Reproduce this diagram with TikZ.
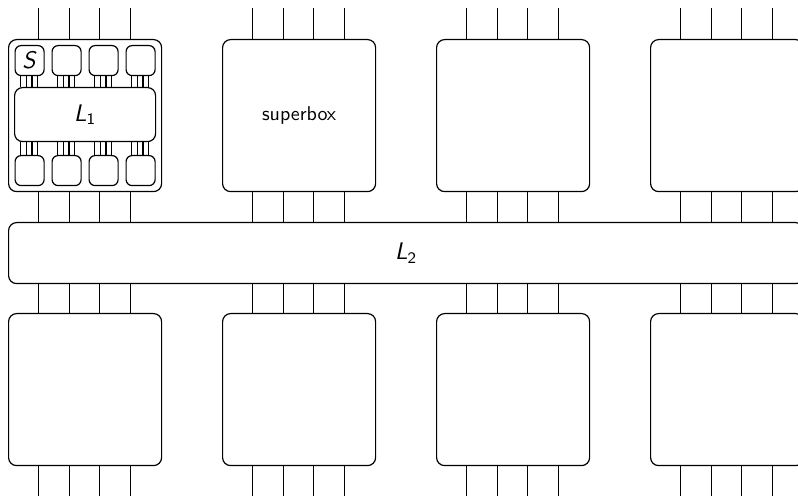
\documentclass[tikz,border=0pt]{standalone}
\usetikzlibrary{calc}
\renewcommand{\familydefault}{\sfdefault}
\newcommand{\layer}[1]{\textit{L}$_{\mathsf{#1}}$}

\begin{document}
\begin{tikzpicture}[x=0.5pt,y=-0.5pt]
      \useasboundingbox (0,0) rectangle (798,496);
      \clip (0,0) rectangle (798,496);

      % Styles
      \tikzset{
        BoxStyle/.style   = {draw, line width=0.6pt, rounded corners=4pt, anchor=north west,
                             inner sep=0pt, minimum width=76.5pt, minimum height=76pt},
        SmallStyle/.style = {draw, line width=0.6pt, rounded corners=3pt, anchor=north west,
                             inner sep=0pt, minimum width=14.5pt, minimum height=15pt},
        WireStyle/.style  = {line width=0.6pt}
      }

      % Superboxes
      \node[BoxStyle] (b1) at (8,39)   {};
      \node[BoxStyle] (b2) at (222,39) {superbox};
      \node[BoxStyle] (b3) at (436,39) {};
      \node[BoxStyle] (b4) at (650,39) {};
      \node[BoxStyle] (c1) at (8,313)   {};
      \node[BoxStyle] (c2) at (222,313) {};
      \node[BoxStyle] (c3) at (436,313) {};
      \node[BoxStyle] (c4) at (650,313) {};
      \node[BoxStyle, minimum width=397.5pt, minimum height=30.5pt, font=\large] (L2) at (8,222) {\layer{2}};

      % Inside the first superbox
      \node[SmallStyle, font=\large] (s1) at (14.5,45)  {\textit{S}};
      \node[SmallStyle] (s2) at (51.5,45)  {};
      \node[SmallStyle] (s3) at (88.5,45)  {};
      \node[SmallStyle] (s4) at (125.5,45) {};
      \node[BoxStyle, minimum width=70.5pt, minimum height=27pt, font=\large] (L1) at (14,87) {\layer{1}};
      \node[SmallStyle] (t1) at (14.5,155)  {};
      \node[SmallStyle] (t2) at (51.5,155)  {};
      \node[SmallStyle] (t3) at (88.5,155)  {};
      \node[SmallStyle] (t4) at (125.5,155) {};

      % Wires
      \foreach \b/\c in {b1/c1,b2/c2,b3/c3,b4/c4}
        \foreach \i in {1,...,4}{
          \draw[WireStyle] ($(\b.north west)+(30.6*\i,0)$) -- ++(0,-31);
          \draw[WireStyle] ($(\b.south west)+(30.6*\i,0)$) coordinate (w) -- (w |- L2.north);
          \draw[WireStyle] ($(\c.north west)+(30.6*\i,0)$) coordinate (w) -- (w |- L2.south);
          \draw[WireStyle] ($(\c.south west)+(30.6*\i,0)$) -- ++(0,31);
        }
      \foreach \s/\t in {s1/t1,s2/t2,s3/t3,s4/t4}
        \foreach \i in {1,...,4}{
          \draw[WireStyle] ($(\s.south west)+(5.8*\i,0)$) coordinate (w) -- (w |- L1.north);
          \draw[WireStyle] ($(\t.north west)+(5.8*\i,0)$) coordinate (w) -- (w |- L1.south);
        }
\end{tikzpicture}
\end{document}
